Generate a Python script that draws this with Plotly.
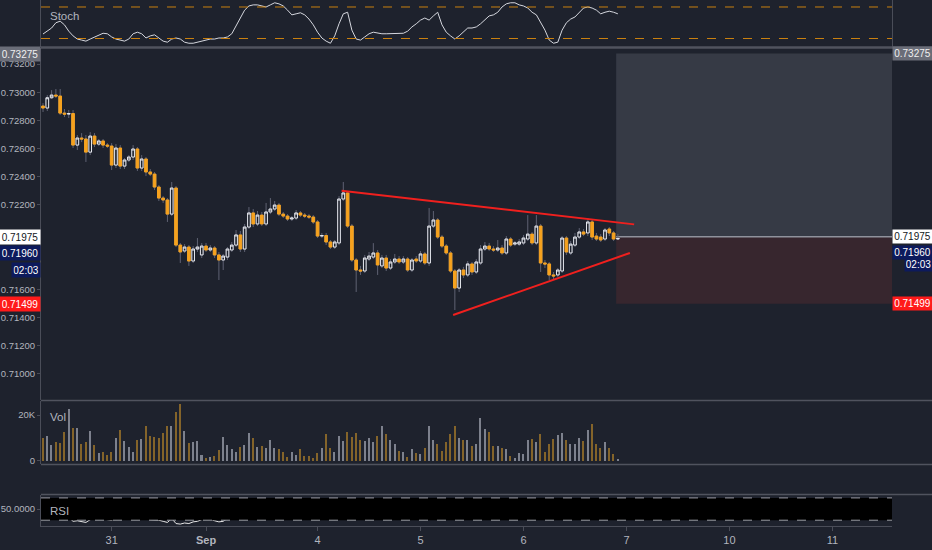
import plotly.graph_objects as go

# hourly AUDUSD bars, Aug 30 08:00 .. Sep 6 22:00 (weekend bars skipped)
opens = [0.72902, 0.72888, 0.72961, 0.72980, 0.72973, 0.72852, 0.72845, 0.72849, 0.72625, 0.72675,
         0.72668, 0.72575, 0.72689, 0.72632, 0.72654, 0.72625, 0.72618, 0.72483, 0.72604, 0.72476,
         0.72519, 0.72540, 0.72597, 0.72462, 0.72526, 0.72434, 0.72419, 0.72327, 0.72249, 0.72235,
         0.72135, 0.72320, 0.71915, 0.71873, 0.71901, 0.71802, 0.71887, 0.71845, 0.71908, 0.71880,
         0.71894, 0.71845, 0.71809, 0.71830, 0.71880, 0.71915, 0.71987, 0.71887, 0.72043, 0.72143,
         0.72065, 0.72128, 0.72065, 0.72150, 0.72171, 0.72199, 0.72135, 0.72121, 0.72100, 0.72107,
         0.72143, 0.72128, 0.72121, 0.72114, 0.72079, 0.71979, 0.71983, 0.71937, 0.71901, 0.71930,
         0.72242, 0.72285, 0.72050, 0.71809, 0.71738, 0.71731, 0.71816, 0.71830, 0.71859, 0.71767,
         0.71823, 0.71752, 0.71795, 0.71816, 0.71795, 0.71816, 0.71738, 0.71816, 0.71802, 0.71852,
         0.71788, 0.72050, 0.72093, 0.71972, 0.71908, 0.71859, 0.71731, 0.71610, 0.71738, 0.71703,
         0.71781, 0.71724, 0.71788, 0.71887, 0.71908, 0.71887, 0.71880, 0.71894, 0.71859, 0.71958,
         0.71922, 0.71922, 0.71930, 0.71958, 0.71993, 0.71930, 0.72050, 0.71788, 0.71781, 0.71703,
         0.71703, 0.71731, 0.71965, 0.71859, 0.71915, 0.71972, 0.72008, 0.72001, 0.72079, 0.71979,
         0.71972, 0.71958, 0.72029, 0.72001, 0.71958]
highs = [0.72923, 0.72980, 0.73015, 0.73023, 0.73023, 0.72881, 0.72874, 0.72874, 0.72696, 0.72710,
         0.72696, 0.72717, 0.72710, 0.72668, 0.72668, 0.72639, 0.72639, 0.72632, 0.72625, 0.72533,
         0.72554, 0.72625, 0.72611, 0.72554, 0.72540, 0.72455, 0.72434, 0.72341, 0.72263, 0.72249,
         0.72363, 0.72334, 0.71930, 0.71922, 0.71915, 0.71908, 0.71965, 0.71930, 0.71930, 0.71915,
         0.71908, 0.71866, 0.71852, 0.71901, 0.71937, 0.72022, 0.72015, 0.72065, 0.72185, 0.72171,
         0.72157, 0.72150, 0.72214, 0.72249, 0.72228, 0.72214, 0.72150, 0.72135, 0.72121, 0.72164,
         0.72157, 0.72143, 0.72135, 0.72128, 0.72093, 0.72001, 0.72001, 0.71951, 0.71951, 0.72263,
         0.72363, 0.72299, 0.72065, 0.71823, 0.71767, 0.71845, 0.71866, 0.71929, 0.71880, 0.71845,
         0.71845, 0.71816, 0.71852, 0.71837, 0.71837, 0.71830, 0.71823, 0.71837, 0.71873, 0.71866,
         0.72178, 0.72157, 0.72107, 0.71987, 0.71922, 0.71873, 0.71745, 0.71752, 0.71760, 0.71802,
         0.71795, 0.71816, 0.71915, 0.71937, 0.71930, 0.71908, 0.71951, 0.71915, 0.71979, 0.71972,
         0.71944, 0.71958, 0.71987, 0.72128, 0.72008, 0.72128, 0.72065, 0.71809, 0.71795, 0.71724,
         0.71752, 0.71979, 0.71979, 0.71944, 0.72001, 0.72036, 0.72029, 0.72107, 0.72093, 0.72001,
         0.71993, 0.72036, 0.72043, 0.72015, 0.71993]
lows = [0.72860, 0.72867, 0.72952, 0.72959, 0.72838, 0.72824, 0.72817, 0.72604, 0.72590, 0.72646,
        0.72505, 0.72554, 0.72611, 0.72618, 0.72604, 0.72604, 0.72448, 0.72462, 0.72455, 0.72455,
        0.72505, 0.72519, 0.72441, 0.72441, 0.72405, 0.72405, 0.72306, 0.72228, 0.72214, 0.72079,
        0.72121, 0.71901, 0.71788, 0.71859, 0.71767, 0.71788, 0.71866, 0.71823, 0.71866, 0.71866,
        0.71823, 0.71667, 0.71738, 0.71809, 0.71866, 0.71901, 0.71866, 0.71866, 0.72029, 0.72043,
        0.72050, 0.72050, 0.72050, 0.72135, 0.72157, 0.72121, 0.72107, 0.72086, 0.72086, 0.72093,
        0.72114, 0.72107, 0.72100, 0.72065, 0.71965, 0.71965, 0.71915, 0.71887, 0.71887, 0.71915,
        0.72228, 0.72036, 0.71795, 0.71582, 0.71703, 0.71717, 0.71802, 0.71816, 0.71703, 0.71752,
        0.71731, 0.71738, 0.71781, 0.71781, 0.71781, 0.71724, 0.71724, 0.71788, 0.71788, 0.71774,
        0.71767, 0.72036, 0.71958, 0.71894, 0.71845, 0.71717, 0.71454, 0.71582, 0.71681, 0.71688,
        0.71703, 0.71710, 0.71774, 0.71873, 0.71873, 0.71866, 0.71866, 0.71845, 0.71845, 0.71901,
        0.71908, 0.71908, 0.71915, 0.71944, 0.71915, 0.71915, 0.71724, 0.71752, 0.71667, 0.71667,
        0.71688, 0.71717, 0.71845, 0.71845, 0.71901, 0.71958, 0.71979, 0.71979, 0.71951, 0.71944,
        0.71937, 0.71944, 0.71979, 0.71944, 0.71951]
closes = [0.72888, 0.72961, 0.72980, 0.72973, 0.72852, 0.72845, 0.72849, 0.72625, 0.72675, 0.72668,
          0.72575, 0.72689, 0.72632, 0.72654, 0.72625, 0.72618, 0.72483, 0.72604, 0.72476, 0.72519,
          0.72540, 0.72597, 0.72462, 0.72526, 0.72434, 0.72419, 0.72327, 0.72249, 0.72235, 0.72135,
          0.72320, 0.71915, 0.71866, 0.71901, 0.71802, 0.71887, 0.71901, 0.71908, 0.71880, 0.71894,
          0.71845, 0.71809, 0.71837, 0.71887, 0.71915, 0.71987, 0.71887, 0.72043, 0.72143, 0.72065,
          0.72128, 0.72065, 0.72150, 0.72171, 0.72199, 0.72135, 0.72121, 0.72100, 0.72107, 0.72143,
          0.72128, 0.72121, 0.72114, 0.72079, 0.71979, 0.71983, 0.71937, 0.71901, 0.71937, 0.72242,
          0.72285, 0.72050, 0.71809, 0.71738, 0.71731, 0.71823, 0.71837, 0.71859, 0.71774, 0.71823,
          0.71752, 0.71795, 0.71816, 0.71795, 0.71816, 0.71738, 0.71809, 0.71802, 0.71852, 0.71788,
          0.72050, 0.72093, 0.71972, 0.71908, 0.71859, 0.71731, 0.71610, 0.71738, 0.71703, 0.71781,
          0.71724, 0.71795, 0.71887, 0.71908, 0.71887, 0.71880, 0.71894, 0.71859, 0.71958, 0.71915,
          0.71930, 0.71937, 0.71965, 0.71993, 0.71930, 0.72050, 0.71788, 0.71781, 0.71703, 0.71696,
          0.71738, 0.71965, 0.71866, 0.71922, 0.71972, 0.72008, 0.71993, 0.72079, 0.71972, 0.71958,
          0.71951, 0.72022, 0.72001, 0.71958, 0.71962]
volumes = [10100, 10900, 7000, 8400, 7700, 12800, 22600, 14500, 14200, 7400,
           8400, 13000, 7000, 3300, 4000, 2600, 4000, 9900, 13500, 8700,
           6200, 3800, 9100, 9400, 15200, 10900, 10600, 10100, 12000, 15400,
           15400, 21200, 24800, 13000, 8000, 8400, 8700, 2600, 1200, 1900,
           2300, 4800, 10600, 7000, 5200, 4000, 5900, 7000, 12000, 9900,
           6200, 6700, 5500, 9100, 5800, 5200, 4000, 1900, 4000, 2600,
           5200, 2300, 2200, 1200, 3300, 5800, 11700, 5800, 4000, 10900,
           8800, 12800, 10600, 12300, 9100, 8800, 9900, 8400, 10900, 15200,
           11600, 9100, 7200, 4300, 4000, 1900, 5200, 3300, 3000, 5500,
           15200, 9100, 7200, 4300, 8400, 11700, 15200, 9900, 9100, 9100,
           6500, 7200, 18500, 13900, 12500, 6700, 6700, 5500, 5200, 2300,
           1200, 3600, 2900, 9100, 9600, 8100, 11600, 4000, 7200, 9600,
           11300, 12300, 9100, 7400, 7400, 10100, 8700, 13500, 16000, 7400,
           5800, 8400, 5800, 3000, 900]
stoch = [28.6, 34, 40, 50, 53, 46, 34, 25, 19, 17,
         15, 19, 23, 27, 30, 29, 23, 19, 17, 15,
         19, 29, 32, 29, 21, 25, 27, 21, 15, 13,
         19, 21, 19, 13, 11, 11, 13, 15, 17, 19,
         19, 21, 21, 23, 29, 44, 59, 74, 82, 84,
         84, 82, 80, 84, 88, 86, 82, 74, 65, 67,
         69, 65, 57, 46, 32, 21, 15, 11, 25, 48,
         67, 70, 36, 19, 17, 23, 29, 32, 30, 29,
         29, 29, 30, 30, 30, 34, 42, 48, 55, 59,
         55, 63, 70, 46, 32, 25, 19, 25, 32, 40,
         40, 42, 48, 55, 63, 65, 70, 80, 86, 88,
         88, 84, 82, 78, 70, 65, 51, 36, 17, 11,
         13, 36, 50, 57, 61, 70, 78, 80, 78, 74,
         67, 70, 72, 70, 67]
rsi = [52, 58, 61, 60, 44, 42, 35, 28, 29, 28,
       26, 31, 32, 33, 32, 31, 30, 34, 31, 33,
       34, 38, 33, 36, 32, 31, 31, 30, 28, 26,
       33, 24, 23, 25, 24, 27, 28, 31, 32, 32,
       29, 27, 28, 33, 36, 42, 38, 46, 52, 48,
       51, 48, 53, 54, 56, 51, 50, 49, 50, 52,
       51, 50, 50, 47, 40, 41, 38, 36, 39, 55,
       57, 47, 38, 35, 35, 39, 40, 41, 38, 40,
       38, 40, 41, 40, 41, 38, 41, 41, 43, 40,
       52, 54, 47, 44, 42, 37, 33, 39, 38, 41,
       39, 42, 46, 47, 46, 46, 47, 45, 50, 48,
       48, 49, 50, 52, 49, 54, 43, 43, 40, 40,
       42, 52, 48, 50, 53, 55, 54, 57, 52, 51,
       51, 54, 53, 51, 51]

date_ticks = [16, 38, 64, 88, 112, 136, 160, 184]
date_labels = ["31", "<b>Sep</b>", "4", "5", "6", "7", "10", "11"]
# 0.718 / 0.720 sit under the price boxes, so they are left out
price_ticks = [0.710, 0.712, 0.714, 0.716, 0.722, 0.724, 0.726, 0.728, 0.730, 0.732]
vol_ticks = [0, 20000]
vol_labels = ["0", "20K"]

# drawings
upper_trend_x = [69.6, 137.8]
upper_trend_y = [0.72301, 0.72062]
lower_trend_x = [95.6, 136.8]
lower_trend_y = [0.71419, 0.71859]
pos_start, pos_end = 133.6, 198.0
pos_entry, pos_target, pos_stop = 0.71975, 0.73275, 0.71499
last_price = 0.71960
countdown = "02:03"
stoch_levels = [80, 20]
rsi_levels = [70, 30]

bg = "#1e222d"
grid_line = "#4a4d58"
txt = "#b2b5be"
orange = "#f6a21e"
white = "#e6e8ee"
wick = "#5f6273"
font = "Liberation Sans, Arial, sans-serif"
fs = 9.5

bars = list(range(len(closes)))
body_hi = [max(o, c) for o, c in zip(opens, closes)]
body_lo = [min(o, c) for o, c in zip(opens, closes)]
vol_colors = ["#7d818d" if c >= o else "#84642a" for o, c in zip(opens, closes)]

data = []
# wicks
data.append(go.Candlestick(
    x=bars, open=opens, high=highs, low=lows, close=closes,
    increasing=dict(line=dict(color=wick, width=1), fillcolor=wick),
    decreasing=dict(line=dict(color=wick, width=1), fillcolor=wick),
    whiskerwidth=0, hoverinfo="skip", showlegend=False))
# bodies
data.append(go.Candlestick(
    x=bars, open=opens, high=body_hi, low=body_lo, close=closes,
    increasing=dict(line=dict(color=white, width=1), fillcolor=bg),
    decreasing=dict(line=dict(color=orange, width=1), fillcolor=orange),
    whiskerwidth=0, showlegend=False))
data.append(go.Scatter(x=upper_trend_x, y=upper_trend_y, mode="lines",
                       line=dict(color="#f0201e", width=2), showlegend=False))
data.append(go.Scatter(x=lower_trend_x, y=lower_trend_y, mode="lines",
                       line=dict(color="#f0201e", width=2), showlegend=False))
data.append(go.Scatter(x=bars, y=stoch, yaxis="y2", mode="lines",
                       line=dict(color="#d5d7de", width=1), showlegend=False))
data.append(go.Bar(x=bars, y=volumes, yaxis="y3", width=0.35,
                   marker=dict(color=vol_colors, line=dict(width=0)), showlegend=False))
data.append(go.Scatter(x=bars, y=rsi, yaxis="y5", mode="lines",
                       line=dict(color="#e6e6e6", width=1), showlegend=False))


def yax(domain, rng, side="left", **kw):
    d = dict(domain=domain, range=rng, anchor="x", side=side, showgrid=False,
             zeroline=False, showline=True, linecolor=grid_line, linewidth=1,
             ticks="outside", ticklen=3, tickcolor=grid_line,
             tickfont=dict(family=font, size=fs, color=txt), fixedrange=True)
    d.update(kw)
    return d


main_dom = [0.2395, 0.9087]
stoch_dom = [0.9106, 1.0]
vol_dom = [0.1179, 0.2376]
empty_dom = [0.0608, 0.1160]
rsi_dom = [0.0, 0.0589]
main_rng = [0.70815, 0.73314]
stoch_rng = [3.8, 93.3]
vol_rng = [-1300, 26090]
empty_rng = [-1.9, 1.0]
rsi_rng = [19.6, 75.2]

layout = go.Layout(
    width=932, height=550,
    margin=dict(l=41, r=40, t=0, b=24),
    paper_bgcolor=bg, plot_bgcolor=bg,
    showlegend=False, boxgap=0.12, bargap=0,
    xaxis=dict(range=[-0.47, 197.9], anchor="y5", domain=[0, 1], showgrid=False,
               zeroline=False, showline=True, linecolor=grid_line, ticks="outside",
               ticklen=4, tickcolor=grid_line, tickvals=date_ticks, ticktext=date_labels,
               tickfont=dict(family=font, size=11, color=txt),
               rangeslider=dict(visible=False), fixedrange=True),
    yaxis=yax(main_dom, main_rng, tickvals=price_ticks, tickformat=".5f"),
    yaxis6=yax(main_dom, main_rng, side="right", overlaying="y",
               tickvals=price_ticks, tickformat=".5f"),
    yaxis2=yax(stoch_dom, stoch_rng, showticklabels=False, ticks="", mirror=True),
    yaxis3=yax(vol_dom, vol_rng, tickvals=vol_ticks, ticktext=vol_labels),
    yaxis8=yax(vol_dom, vol_rng, side="right", overlaying="y3",
               tickvals=vol_ticks, ticktext=vol_labels),
    yaxis4=yax(empty_dom, empty_rng, tickvals=[0], tickformat=".4f"),
    yaxis9=yax(empty_dom, empty_rng, side="right", overlaying="y4",
               tickvals=[0], tickformat=".4f"),
    yaxis5=yax(rsi_dom, rsi_rng, tickvals=[50], tickformat=".4f"),
    yaxis10=yax(rsi_dom, rsi_rng, side="right", overlaying="y5",
                tickvals=[50], tickformat=".4f"),
)

shapes = []
# position tool
shapes.append(dict(type="rect", xref="x", yref="y", x0=pos_start, x1=pos_end,
                   y0=pos_entry, y1=pos_target, fillcolor="#363a45", line=dict(width=0),
                   layer="below"))
shapes.append(dict(type="rect", xref="x", yref="y", x0=pos_start, x1=pos_end,
                   y0=pos_stop, y1=pos_entry, fillcolor="#37262e", line=dict(width=0),
                   layer="below"))
shapes.append(dict(type="line", xref="x", yref="y", x0=pos_start, x1=pos_end,
                   y0=pos_entry, y1=pos_entry, line=dict(color="#8f929c", width=1.5),
                   layer="below"))
for lv in stoch_levels:
    shapes.append(dict(type="line", xref="x domain", yref="y2", x0=0, x1=1, y0=lv, y1=lv,
                       line=dict(color="#c9800f", width=1, dash="dash")))
shapes.append(dict(type="rect", xref="x domain", yref="y5", x0=0, x1=1,
                   y0=rsi_levels[1], y1=rsi_levels[0], fillcolor="#000000",
                   line=dict(width=0), layer="above"))
for lv in rsi_levels:
    shapes.append(dict(type="line", xref="x domain", yref="y5", x0=0, x1=1, y0=lv, y1=lv,
                       line=dict(color="#9a9ca4", width=1, dash="dash"), layer="above"))
# pane separators
for yp, w in [(0.9097, 2.5), (0.2386, 1.5), (0.1169, 1.5), (0.0599, 1.5)]:
    shapes.append(dict(type="line", xref="paper", yref="paper", x0=0, x1=1.048,
                       y0=yp, y1=yp, line=dict(color="#50535e", width=w)))
layout.shapes = shapes

ann = []
for name, yp in [("Stoch", 0.9696), ("Vol", 0.2072), ("RSI", 0.0285)]:
    ann.append(dict(text=name, xref="paper", yref="paper", x=0.008, y=yp,
                    xanchor="left", yanchor="middle", showarrow=False,
                    font=dict(family=font, size=11.5, color=txt)))

price_boxes = [
    ("%.5f" % pos_target, pos_target, 0, 0, "#6a6d78", "#f0f0f0", 37),
    ("%.5f" % pos_entry, pos_entry, 0, 0, "#ffffff", "#131722", 37),
    ("%.5f" % last_price, last_price, -14, -14, "#0d1a5c", "#ffffff", 37),
    (countdown, last_price, -31, -26, "#0d1a5c", "#ffffff", 25),
    ("%.5f" % pos_stop, pos_stop, 0, 0, "#ff1a1a", "#ffffff", 37),
]
for text, yv, shl, shr, bgc, fc, w in price_boxes:
    ann.append(dict(text=text, xref="paper", yref="y", x=0, y=yv, yshift=shl,
                    xanchor="right", yanchor="middle", showarrow=False, bgcolor=bgc,
                    width=w, align="center", borderpad=1.5,
                    font=dict(family=font, size=fs + 0.5, color=fc)))
    ann.append(dict(text=text, xref="paper", yref="y", x=1, y=yv, yshift=shr,
                    xanchor="left", yanchor="middle", showarrow=False, bgcolor=bgc,
                    width=w, align="center", borderpad=1,
                    xshift=0 if w > 30 else 12,
                    font=dict(family=font, size=fs + 0.5, color=fc)))
layout.annotations = ann

fig = go.Figure(data=data, layout=layout)
fig.write_html("out.html", config={"displayModeBar": False},
               post_script="document.body.style.margin='0';"
                           "document.body.style.background='#1e222d';")
